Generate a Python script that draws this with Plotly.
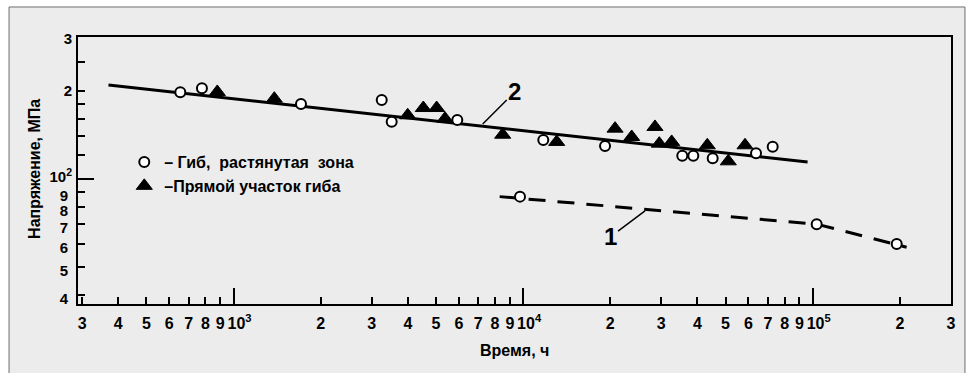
import plotly.graph_objects as go

# ---- data: time to failure (h) vs stress (MPa) ----
# curve 2 (fitted long-term strength line)
curve2_t = [370, 96000]
curve2_s = [209, 114]

# bend, tensile zone (open circles)
bend_t = [655, 778, 1710, 3249, 3517, 5925, 11740, 19180, 35450, 38700, 45140, 63720, 72740]
bend_s = [197.3, 203.6, 180.0, 185.7, 156.5, 158.6, 135.6, 129.3, 119.8, 119.8, 117.4, 122.1, 128.6]

# straight section of the bend (filled triangles)
straight_t = [879, 1383, 3995, 4522, 5029, 5374, 8502, 13060, 20770, 23710, 28530, 29530, 32580, 43250, 51110, 58380]
straight_s = [197.8, 187.6, 164.6, 174.3, 174.3, 160.3, 141.3, 133.5, 148.2, 138.8, 150.2, 131.7, 133.5, 130.0, 114.6, 130.0]

# curve 1 (dashed) and its points
curve1_t = [8300, 103200, 211000]
curve1_s = [86.8, 69.9, 58.3]
curve1_pts_t = [9755, 103200, 195000]
curve1_pts_s = [86.8, 69.9, 59.8]

# x ticks: in-decade digits on the main axis, decades on the overlay axis
x_tick_vals = [300, 400, 500, 600, 700, 800, 900,
               2000, 3000, 4000, 5000, 6000, 7000, 8000, 9000,
               20000, 30000, 40000, 50000, 60000, 70000, 80000, 90000,
               200000, 300000]
x_tick_text = ["3", "4", "5", "6", "7", "8", "9",
               "2", "3", "4", "5", "6", "7", "8", "9",
               "2", "3", "4", "5", "6", "7", "8", "9",
               "2", "3"]
x_decades = [1000, 10000, 100000]
x_decade_text = ["10<sup>3</sup>", "10<sup>4</sup>", "10<sup>5</sup>"]

# y ticks
y_low_vals = [40, 50, 60, 70, 80, 90]
y_low_text = ["4", "5", "6", "7", "8", "9"]
y_minor_vals = [120, 140, 160, 180, 200, 250]
y_decades = [100]
y_decade_text = ["10<sup>2</sup>"]
y_high_vals = [200, 300]
y_high_text = ["2", "3"]

X_RANGE = [2.463, 5.4775]
Y_RANGE = [1.5716, 2.484]

FONT = "Liberation Sans Narrow, Arial Narrow, Liberation Sans, Arial, sans-serif"
BG = "#ececec"

fig = go.Figure()

fig.add_trace(go.Scatter(
    x=curve2_t, y=curve2_s, mode="lines",
    line=dict(color="black", width=3), showlegend=False, hoverinfo="skip"))

fig.add_trace(go.Scatter(
    x=curve1_t, y=curve1_s, mode="lines",
    line=dict(color="black", width=3, dash="17px,12px"), showlegend=False, hoverinfo="skip"))

fig.add_trace(go.Scatter(
    x=curve1_pts_t, y=curve1_pts_s, mode="markers",
    marker=dict(symbol="circle", size=10, color="white", line=dict(color="black", width=2)),
    showlegend=False))

fig.add_trace(go.Scatter(
    x=straight_t, y=straight_s, mode="markers", name="–Прямой участок гиба",
    legendrank=2,
    marker=dict(symbol="triangle-up", size=14, color="black", line=dict(color="black", width=1))))

fig.add_trace(go.Scatter(
    x=bend_t, y=bend_s, mode="markers", name="– Гиб,  растянутая  зона",
    legendrank=1,
    marker=dict(symbol="circle", size=10, color="white", line=dict(color="black", width=2))))

# empty traces that keep the overlay axes alive
fig.add_trace(go.Scatter(x=[], y=[], xaxis="x2", yaxis="y2", showlegend=False, hoverinfo="skip"))
fig.add_trace(go.Scatter(x=[], y=[], xaxis="x", yaxis="y3", showlegend=False, hoverinfo="skip"))

axis_font = dict(family=FONT, size=16, color="black", weight="bold")
y_axis_font = dict(family=FONT, size=15, color="black", weight="bold")
title_font = dict(family=FONT, size=16, color="black", weight="bold")

fig.update_layout(
    template="none",
    width=972, height=373,
    margin=dict(l=78, r=21, t=37, b=69),
    paper_bgcolor="white",
    plot_bgcolor=BG,
    font=dict(family=FONT, color="black"),
    showlegend=True,
    legend=dict(
        x=0.053, y=0.595, xanchor="left", yanchor="top",
        bgcolor="rgba(0,0,0,0)", borderwidth=0,
        font=dict(family=FONT, size=16, color="black", weight="bold"),
        traceorder="normal",
    ),
    xaxis=dict(
        type="log", range=X_RANGE,
        tickmode="array", tickvals=x_tick_vals, ticktext=x_tick_text, tickangle=0,
        ticks="inside", ticklen=7, tickwidth=2, tickcolor="black",
        ticklabelstandoff=4,
        tickfont=axis_font,
        showline=True, linecolor="black", linewidth=2, mirror=True,
        showgrid=False, zeroline=False, automargin=False,
    ),
    xaxis2=dict(
        type="log", range=X_RANGE, overlaying="x", anchor="y", side="bottom",
        tickmode="array", tickvals=x_decades, ticktext=x_decade_text, tickangle=0,
        ticks="inside", ticklen=16, tickwidth=2, tickcolor="black",
        showticklabels=True, ticklabelstandoff=8, ticklabelshift=6, tickfont=axis_font,
        showline=False, showgrid=False, zeroline=False, automargin=False,
    ),
    yaxis=dict(
        type="log", range=Y_RANGE,
        tickmode="array", tickvals=y_low_vals, ticktext=y_low_text, tickangle=0,
        ticks="inside", ticklen=7, tickwidth=2, tickcolor="black",
        ticklabelstandoff=5, ticklabelshift=4,
        tickfont=y_axis_font,
        minor=dict(tickmode="array", tickvals=y_minor_vals, ticks="inside", ticklen=7, tickwidth=2, tickcolor="black"),
        showline=True, linecolor="black", linewidth=2, mirror=True,
        showgrid=False, zeroline=False, automargin=False,
    ),
    yaxis2=dict(
        type="log", range=Y_RANGE, overlaying="y", anchor="x", side="left",
        tickmode="array", tickvals=y_decades, ticktext=y_decade_text, tickangle=0,
        ticks="inside", ticklen=16, tickwidth=2, tickcolor="black",
        showticklabels=True, ticklabelstandoff=5, ticklabelshift=-2, tickfont=y_axis_font,
        showline=False, showgrid=False, zeroline=False, automargin=False,
    ),
    yaxis3=dict(
        type="log", range=Y_RANGE, overlaying="y", anchor="x", side="left",
        tickmode="array", tickvals=y_high_vals, ticktext=y_high_text, tickangle=0,
        ticks="", showticklabels=True, ticklabelstandoff=5, tickfont=y_axis_font,
        showline=False, showgrid=False, zeroline=False, automargin=False,
    ),
)

# gray panel with thin border behind the whole chart
fig.add_shape(
    type="rect", xref="paper", yref="paper",
    x0=-0.079, x1=1.016, y0=-0.4, y1=1.1124,
    fillcolor=BG, line=dict(color="#6e6e6e", width=1), layer="below",
)

# axis titles
fig.add_annotation(
    x=0.5, y=-0.1723, xref="paper", yref="paper", xanchor="center", yanchor="middle",
    text="Время, ч", showarrow=False, font=title_font,
)
fig.add_annotation(
    x=-0.0505, y=0.5056, xref="paper", yref="paper", xanchor="center", yanchor="middle",
    text="Напряжение, МПа", textangle=-90, showarrow=False, font=title_font,
)

# curve labels with leader lines (annotation coordinates are log10 on log axes)
fig.add_annotation(
    x=3.8605, y=2.1868, xref="x", yref="y",
    text="2", showarrow=True, arrowhead=0, arrowwidth=1.5, arrowcolor="black",
    ax=32, ay=-32, font=dict(family=FONT, size=24, color="black", weight="bold"),
)
fig.add_annotation(
    x=4.4209, y=1.8895, xref="x", yref="y",
    text="1", showarrow=True, arrowhead=0, arrowwidth=1.5, arrowcolor="black",
    ax=-35, ay=26, font=dict(family=FONT, size=24, color="black", weight="bold"),
)

fig.write_html("out.html")
